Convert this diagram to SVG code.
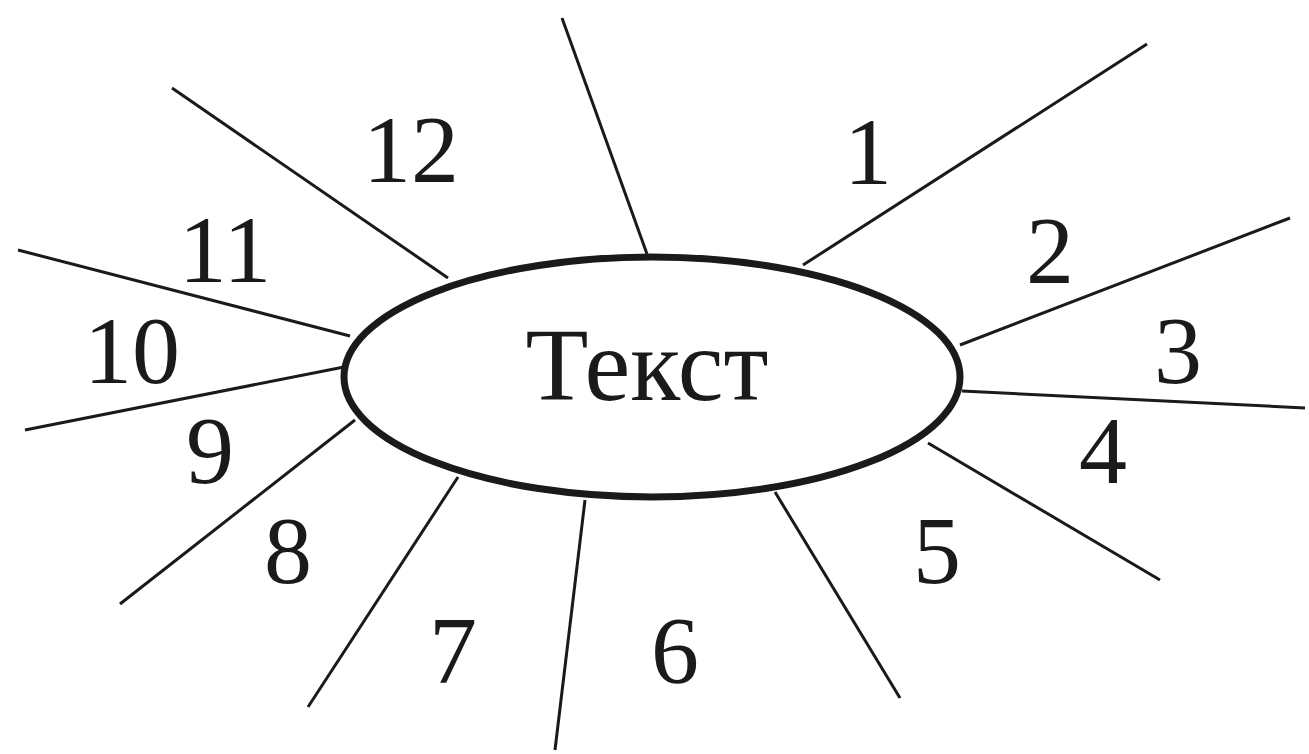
<svg xmlns="http://www.w3.org/2000/svg" width="1309" height="754" viewBox="0 0 1309 754">
<style>
.ray{stroke:#1a1a1a;stroke-width:3;fill:none;stroke-linecap:butt}
.lbl{font-family:"Liberation Serif",serif;font-size:96px;fill:#1a1a1a;text-anchor:middle}
.big{font-size:103px}
</style>
<rect width="1309" height="754" fill="#fff"/>
<g id="connectors">
<line class="ray" x1="803" y1="265" x2="1147" y2="44"/>
<line class="ray" x1="960" y1="345" x2="1290" y2="218"/>
<line class="ray" x1="962" y1="391" x2="1305" y2="408"/>
<line class="ray" x1="928" y1="443" x2="1160" y2="580"/>
<line class="ray" x1="775" y1="492" x2="900" y2="698"/>
<line class="ray" x1="585" y1="500" x2="555" y2="750"/>
<line class="ray" x1="458" y1="477" x2="308" y2="707"/>
<line class="ray" x1="355" y1="420" x2="120" y2="604"/>
<line class="ray" x1="344" y1="367" x2="25" y2="430"/>
<line class="ray" x1="350" y1="336" x2="18" y2="250"/>
<line class="ray" x1="448" y1="278" x2="172" y2="88"/>
<line class="ray" x1="647" y1="254" x2="562" y2="18"/>
</g>
<g id="center">
<ellipse cx="652" cy="377" rx="308" ry="120" fill="#fff" stroke="#1a1a1a" stroke-width="7"/>
<text class="lbl big" x="647" y="400">Текст</text>
</g>
<g id="labels">
<text class="lbl" x="868" y="184">1</text>
<text class="lbl" x="1050" y="283">2</text>
<text class="lbl" x="1178" y="383">3</text>
<text class="lbl" x="1103" y="483">4</text>
<text class="lbl" x="937" y="583">5</text>
<text class="lbl" x="675" y="683">6</text>
<text class="lbl" x="453" y="683">7</text>
<text class="lbl" x="288" y="583">8</text>
<text class="lbl" x="210" y="483">9</text>
<text class="lbl" x="132" y="383">10</text>
<text class="lbl" x="225" y="282">11</text>
<text class="lbl" x="411" y="182">12</text>
</g>
</svg>
